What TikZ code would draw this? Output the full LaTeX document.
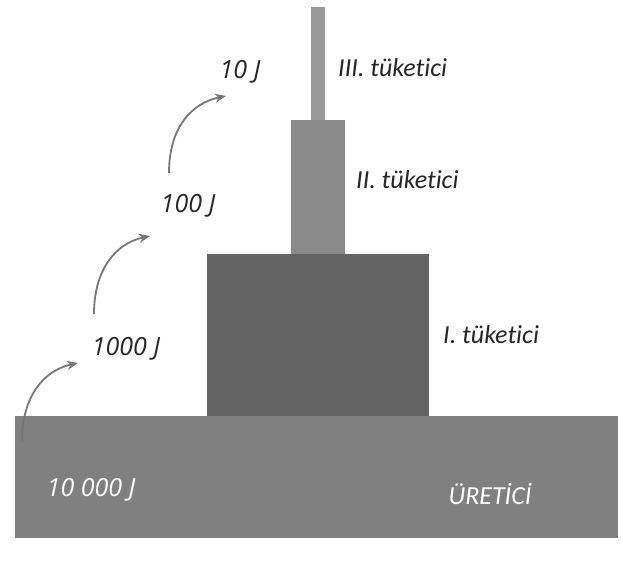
\documentclass[tikz,border=0pt]{standalone}
\usepackage{fontspec}
\setmainfont{Open Sans}
\newfontfamily\labelfont[Ligatures=NoCommon]{Carlito}
\usetikzlibrary{arrows.meta}
\definecolor{prodgray}{HTML}{808080}
\definecolor{cons1}{HTML}{636363}
\definecolor{cons2}{HTML}{8A8A8A}
\definecolor{cons3}{HTML}{999999}
\definecolor{arrowgray}{HTML}{777777}
\begin{document}
\begin{tikzpicture}[x=1pt,y=-1pt,
  energy/.style={font=\fontsize{25}{28}\selectfont\itshape, text=black!85, inner sep=0pt},
  tier/.style={font=\labelfont\fontsize{26}{28}\selectfont\itshape, text=black!85, inner sep=0pt},
  flow/.style={arrowgray, line width=1.8pt, -{Stealth[length=11pt,width=9pt]}}]
\useasboundingbox (0,0) rectangle (623,562);
% trophic levels
\fill[prodgray] (15,416) rectangle (618,538);
\fill[cons1] (207,254) rectangle (429,416);
\fill[cons2] (291,120) rectangle (345,254);
\fill[cons3] (311,7) rectangle (325,120);
% energy values
\node[energy, text=white] (e0) at (91,490) {10 000 J};
\node[energy] (e1) at (126,349) {1000 J};
\node[energy] (e2) at (188,206) {100 J};
\node[energy] (e3) at (240,72) {10 J};
% level names
\node[tier, text=white] (prod) at (490,494) {ÜRETİCİ};
\node[tier, anchor=west] (t1) at (443,335) {I. tüketici};
\node[tier, anchor=west] (t2) at (356,180) {II. tüketici};
\node[tier, anchor=west] (t3) at (338,68) {III. tüketici};
% energy transfer arrows
\coordinate (s0) at (22,441);
\coordinate (s1) at (94,314);
\coordinate (s2) at (169,173);
\draw[flow] (s0) .. controls (22,395) and (45,370) .. (78,363);
\draw[flow] (s1) .. controls (94,268) and (117,243) .. (150,236);
\draw[flow] (s2) .. controls (169,127) and (192,103) .. (226,96);
\end{tikzpicture}
\end{document}
